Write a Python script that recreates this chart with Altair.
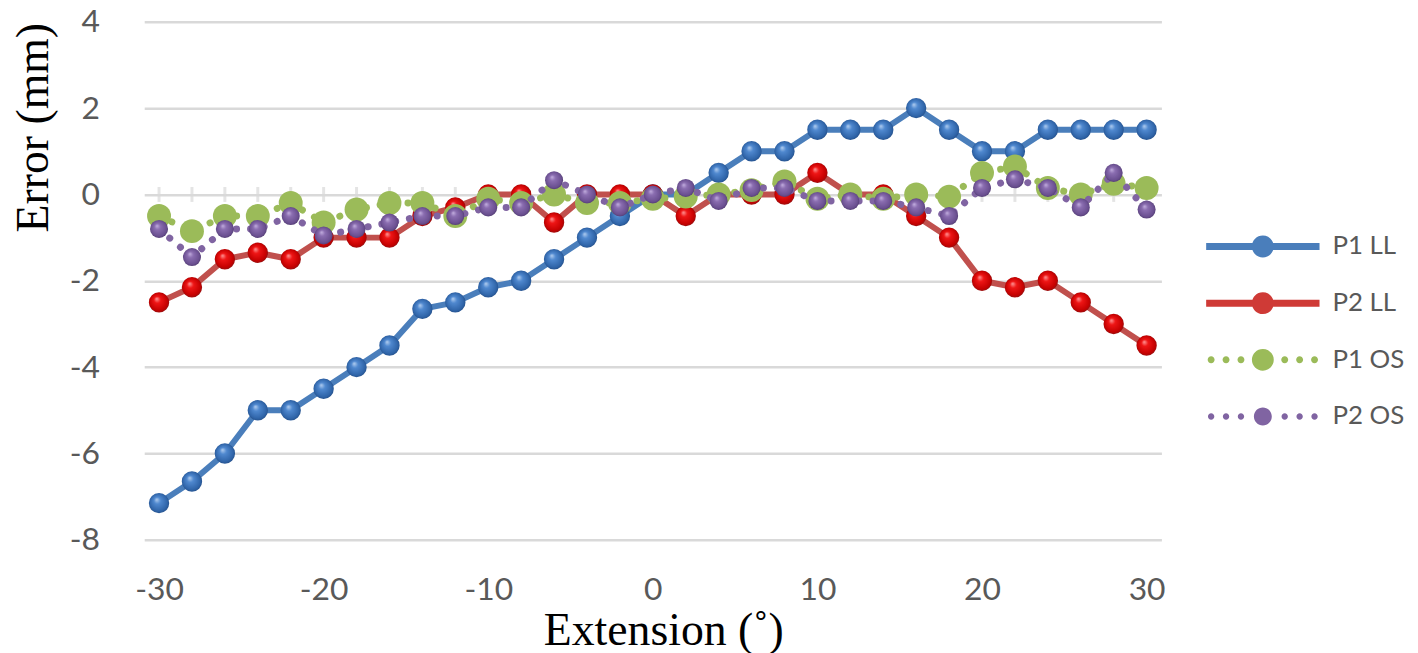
import altair as alt
import pandas as pd

# ---------------- data ----------------
x_vals = [-30, -28, -26, -24, -22, -20, -18, -16, -14, -12, -10, -8, -6, -4, -2,
          0, 2, 4, 6, 8, 10, 12, 14, 16, 18, 20, 22, 24, 26, 28, 30]
p1_ll = [-7.15, -6.65, -6.0, -5.0, -5.0, -4.5, -4.0, -3.5, -2.65, -2.5, -2.15, -2.0, -1.5, -1.0, -0.5,
         0.0, 0.0, 0.5, 1.0, 1.0, 1.5, 1.5, 1.5, 2.0, 1.5, 1.0, 1.0, 1.5, 1.5, 1.5, 1.5]
p2_ll = [-2.5, -2.15, -1.5, -1.35, -1.5, -1.0, -1.0, -1.0, -0.5, -0.3, 0.0, 0.0, -0.65, 0.0, 0.0,
         0.0, -0.5, 0.0, 0.0, 0.0, 0.5, 0.0, 0.0, -0.5, -1.0, -2.0, -2.15, -2.0, -2.5, -3.0, -3.5]
p1_os = [-0.5, -0.85, -0.5, -0.5, -0.2, -0.65, -0.35, -0.2, -0.2, -0.5, -0.1, -0.2, 0.0, -0.2, -0.2,
         -0.1, -0.05, 0.0, 0.1, 0.3, -0.1, 0.0, -0.1, 0.0, -0.05, 0.5, 0.65, 0.15, 0.0, 0.25, 0.15]
p2_os = [-0.8, -1.45, -0.8, -0.8, -0.5, -0.95, -0.8, -0.65, -0.5, -0.5, -0.3, -0.3, 0.33, 0.0, -0.3,
         0.0, 0.15, -0.15, 0.15, 0.15, -0.15, -0.15, -0.15, -0.3, -0.5, 0.15, 0.35, 0.15, -0.3, 0.5, -0.35]
series_names = ["P1 LL", "P2 LL", "P1 OS", "P2 OS"]
x_ticks = [-30, -20, -10, 0, 10, 20, 30]
y_ticks = [-8, -6, -4, -2, 0, 2, 4]

rows = []
for name, vals in zip(series_names, [p1_ll, p2_ll, p1_os, p2_os]):
    for xv, yv in zip(x_vals, vals):
        rows.append({"x": xv, "y": yv, "series": name})
df = pd.DataFrame(rows)
ticks_df = pd.DataFrame({"x": x_vals})

# ---------------- styles ----------------
line_colors = ["#4a7ebb", "#c0504d", "#9bbb59", "#8064a2"]


def radial(c0, c1, c2, c3):
    return alt.RadialGradient(
        gradient="radial", x1=0.38, y1=0.32, r1=0.0, x2=0.5, y2=0.5, r2=0.55,
        stops=[alt.GradientStop(offset=0, color=c0), alt.GradientStop(offset=0.3, color=c1),
               alt.GradientStop(offset=0.8, color=c2), alt.GradientStop(offset=1, color=c3)])


point_fills = [
    radial("#b4cff0", "#4f88cf", "#2f64a8", "#234a80"),
    radial("#ff9a9a", "#ee1515", "#c40000", "#7e1a1a"),
    "#9bbb59",
    radial("#c4b0e0", "#8a6db0", "#6a4f90", "#4a3668"),
]
point_sizes = [420, 420, 580, 330]
line_widths = [6, 6, 7, 7]
dashes = [None, None, [0.1, 14], [0.1, 14]]


def circ(cx, r):
    return (f"M{cx + r},0A{r},{r},0,1,1,{cx - r},0A{r},{r},0,1,1,{cx + r},0Z")


ll_path = "M-2.85,-0.175L2.85,-0.175L2.85,0.175L-2.85,0.175Z " + circ(0, 0.55)
dot_x = [-2.6, -1.85, -1.1, 1.1, 1.85, 2.6]
os_path_g = " ".join(circ(d, 0.175) for d in dot_x) + " " + circ(0, 0.55)
os_path_p = " ".join(circ(d, 0.16) for d in dot_x) + " " + circ(0, 0.45)
legend_paths = [ll_path, ll_path, os_path_g, os_path_p]
legend_colors = ["#4a7ebb", "#cf3a36", "#9bbb59", "#8064a2"]

x_scale = alt.Scale(domain=[-30.9, 30.9], nice=False, zero=False)
y_scale = alt.Scale(domain=[-8, 4], nice=False, zero=False)

plain_label = "datum.value + ''"

x_axis = alt.Axis(values=x_ticks, grid=False, domain=False, ticks=False, tickSize=0,
                  labelExpr=plain_label,
                  labelFont="Lato", labelFontSize=32, labelColor="#595959", labelPadding=35,
                  title="Extension (˚)", titleFont="Liberation Serif", titleFontSize=46,
                  titleFontWeight="normal", titleColor="#000000", titleX=522, titleY=105,
                  titleAlign="center", titleBaseline="alphabetic")
y_axis = alt.Axis(values=y_ticks, grid=True, gridColor="#d9d9d9", gridWidth=2.5,
                  domain=False, ticks=False, tickSize=0, labelExpr=plain_label,
                  labelFont="Lato", labelFontSize=32, labelColor="#595959", labelPadding=45,
                  title="Error (mm)", titleFont="Liberation Serif", titleFontSize=46,
                  titleFontWeight="normal", titleColor="#000000", titleAngle=270,
                  titleX=-97, titleY=106, titleAlign="center", titleBaseline="alphabetic")

x_enc = alt.X("x:Q", scale=x_scale, axis=x_axis)
y_enc = alt.Y("y:Q", scale=y_scale, axis=y_axis)

layers = []
# small tick marks along the zero line
layers.append(
    alt.Chart(ticks_df).mark_tick(orient="vertical", size=15, thickness=3, color="#d9d9d9")
    .encode(x=x_enc, y=alt.datum(0))
)

for i, name in enumerate(series_names):
    base = alt.Chart(df).transform_filter(alt.datum.series == name)
    line_kwargs = dict(color=line_colors[i], strokeWidth=line_widths[i],
                       strokeCap="round", strokeJoin="round")
    if dashes[i] is not None:
        line_kwargs["strokeDash"] = dashes[i]
    layers.append(base.mark_line(**line_kwargs).encode(x=x_enc, y=y_enc))
    layers.append(base.mark_circle(size=point_sizes[i], fill=point_fills[i], opacity=1)
                  .encode(x=x_enc, y=y_enc))

leg = alt.Legend(title=None, orient="none", legendX=1105, legendY=206, padding=0,
                 rowPadding=24, labelOffset=50, labelFont="Lato", labelFontSize=26,
                 labelColor="#595959", symbolSize=1600, symbolStrokeWidth=0,
                 symbolOpacity=1, direction="vertical", labelLimit=300)

layers.append(
    alt.Chart(df).transform_filter("false")
    .mark_point(filled=True, size=1600, opacity=1, strokeWidth=0)
    .encode(
        x=x_enc, y=y_enc,
        color=alt.Color("series:N", scale=alt.Scale(domain=series_names, range=legend_colors), legend=leg),
        shape=alt.Shape("series:N", scale=alt.Scale(domain=series_names, range=legend_paths), legend=leg),
    )
)

chart = alt.layer(*layers).properties(
    width=1023, height=521,
    autosize=alt.AutoSizeParams(type="none"),
    padding={"left": 137, "top": 12, "right": 250, "bottom": 115},
    background="white",
).configure_view(stroke=None)

chart.save("out.html", embed_options={"renderer": "svg", "actions": False})
